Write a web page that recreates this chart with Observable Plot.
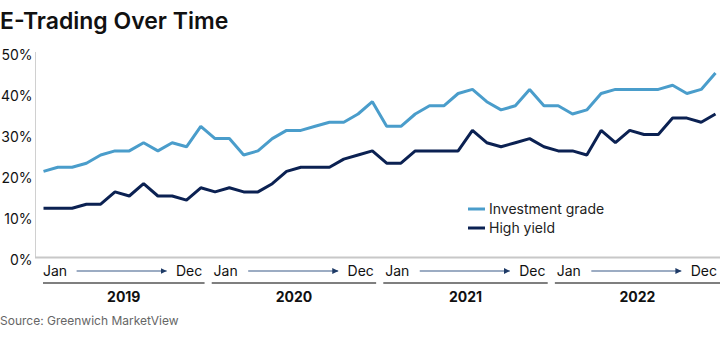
<!DOCTYPE html>
<html>
<head>
<meta charset="utf-8">
<script src="https://cdn.jsdelivr.net/npm/d3@7"></script>
<script src="https://cdn.jsdelivr.net/npm/@observablehq/plot@0.6"></script>
<style>
  body { margin: 0; background: #fff; font-family: Inter, "Noto Sans", sans-serif; }
  #wrap { position: relative; width: 720px; height: 338px; overflow: hidden; }
  #title { position: absolute; left: 0; top: 9px; font-size: 23px; line-height: 24px; font-weight: 600; color: #111; }
  #chart { position: absolute; left: 0; top: 40px; }
  #source { position: absolute; left: 0; top: 315px; font-size: 12px; line-height: 12px; color: #666; }
</style>
</head>
<body>
<div id="wrap">
  <div id="title">E-Trading Over Time</div>
  <div id="chart"></div>
  <div id="source">Source: Greenwich MarketView</div>
</div>
<script>
// ---- Data ----
const years = ["2019", "2020", "2021", "2022"];
const startLabel = "Jan";
const endLabel = "Dec";
const yTicks = [0, 10, 20, 30, 40, 50];
const seriesNames = ["Investment grade", "High yield"];
const seriesColors = ["#4a9dcb", "#0b2152"];
// monthly e-trading share (%), Jan 2019 .. Dec 2022
const investmentGrade = [
  21, 22, 22, 23, 25, 26, 26, 28, 26, 28, 27, 32,
  29, 29, 25, 26, 29, 31, 31, 32, 33, 33, 35, 38,
  32, 32, 35, 37, 37, 40, 41, 38, 36, 37, 41, 37,
  37, 35, 36, 40, 41, 41, 41, 41, 42, 40, 41, 45
];
const highYield = [
  12, 12, 12, 13, 13, 16, 15, 18, 15, 15, 14, 17,
  16, 17, 16, 16, 18, 21, 22, 22, 22, 24, 25, 26,
  23, 23, 26, 26, 26, 26, 31, 28, 27, 28, 29, 27,
  26, 26, 25, 31, 28, 31, 30, 30, 34, 34, 33, 35
];

const rows = [];
investmentGrade.forEach((v, i) => rows.push({ i, v, s: seriesNames[0] }));
highYield.forEach((v, i) => rows.push({ i, v, s: seriesNames[1] }));

const FONT = "Inter, 'Noto Sans', sans-serif";
const W = 720, H = 265;
const xDomain = [-0.56, 47.35];

const chart = Plot.plot({
  width: W,
  height: H,
  marginLeft: 35,
  marginRight: 0,
  marginTop: 12,
  marginBottom: 48,
  style: { fontFamily: FONT, fontSize: "14px", background: "transparent", color: "#111" },
  x: { domain: xDomain, axis: null },
  y: { domain: [0, 50], axis: null },
  color: { domain: seriesNames, range: seriesColors },
  marks: [
    Plot.ruleX([xDomain[0]], { y1: 0, y2: 50, stroke: "#d0d0d0", strokeWidth: 1 }),
    Plot.ruleY([0], { stroke: "#c8c8c8", strokeWidth: 2 }),
    Plot.text(yTicks, {
      y: d => d, text: d => d + "%", frameAnchor: "left",
      textAnchor: "end", dx: -3, dy: 3, fontSize: 14, fill: "#111"
    }),
    Plot.line(rows, { x: "i", y: "v", z: "s", stroke: "s", strokeWidth: 3, strokeLinejoin: "miter", strokeLinecap: "butt" })
  ]
});
document.getElementById("chart").appendChild(chart);

// ---- Annotations below the axis, placed with Plot's x scale ----
const xs = chart.scale("x");
const X = v => xs.apply(v);
const svg = d3.select(chart);
svg.append("defs").append("marker")
  .attr("id", "ah").attr("viewBox", "0 0 10 10").attr("refX", 10).attr("refY", 5)
  .attr("markerWidth", 6).attr("markerHeight", 6).attr("markerUnits", "userSpaceOnUse")
  .attr("orient", "auto")
  .append("path").attr("d", "M0,0 L10,5 L0,10 z").attr("fill", "#1e3a66");

const g = svg.append("g").attr("font-family", FONT).attr("font-weight", 400);
const yMonth = 231, yBracket = 243, yYear = 257;
years.forEach((yr, k) => {
  const i0 = 12 * k, i1 = 12 * k + 11;
  g.append("text").attr("x", X(i0) - (k ? 1 : 0)).attr("y", yMonth).attr("dy", "0.35em")
    .attr("text-anchor", "start").attr("font-size", 14).attr("fill", "#111").text(startLabel);
  g.append("text").attr("x", X(i1) + 2).attr("y", yMonth).attr("dy", "0.35em")
    .attr("text-anchor", "end").attr("font-size", 14).attr("fill", "#111").text(endLabel);
  g.append("line").attr("x1", X(i0 + 2.35)).attr("x2", X(i0 + 8.65))
    .attr("y1", yMonth).attr("y2", yMonth).attr("stroke", "#3b5a88").attr("stroke-width", 1.2)
    .attr("marker-end", "url(#ah)");
  const bx0 = k === 0 ? X(i0) : X(i0 - 0.2);
  const bx1 = k === years.length - 1 ? W : X(i1 + 0.3);
  g.append("line").attr("x1", bx0).attr("x2", bx1).attr("y1", yBracket).attr("y2", yBracket)
    .attr("stroke", "#555").attr("stroke-width", 1.5);
  g.append("text").attr("x", (bx0 + bx1) / 2).attr("y", yYear).attr("dy", "0.35em")
    .attr("text-anchor", "middle").attr("font-size", 14).attr("font-weight", 700)
    .attr("fill", "#111").text(yr);
});

// ---- Legend ----
const lg = svg.append("g").attr("font-family", FONT);
seriesNames.forEach((name, k) => {
  const ly = 169 + k * 19;
  lg.append("line").attr("x1", 468).attr("x2", 485).attr("y1", ly).attr("y2", ly)
    .attr("stroke", seriesColors[k]).attr("stroke-width", 3);
  lg.append("text").attr("x", 489).attr("y", ly).attr("dy", "0.35em")
    .attr("text-anchor", "start").attr("font-size", 14).attr("fill", "#222").text(name);
});
</script>
</body>
</html>
